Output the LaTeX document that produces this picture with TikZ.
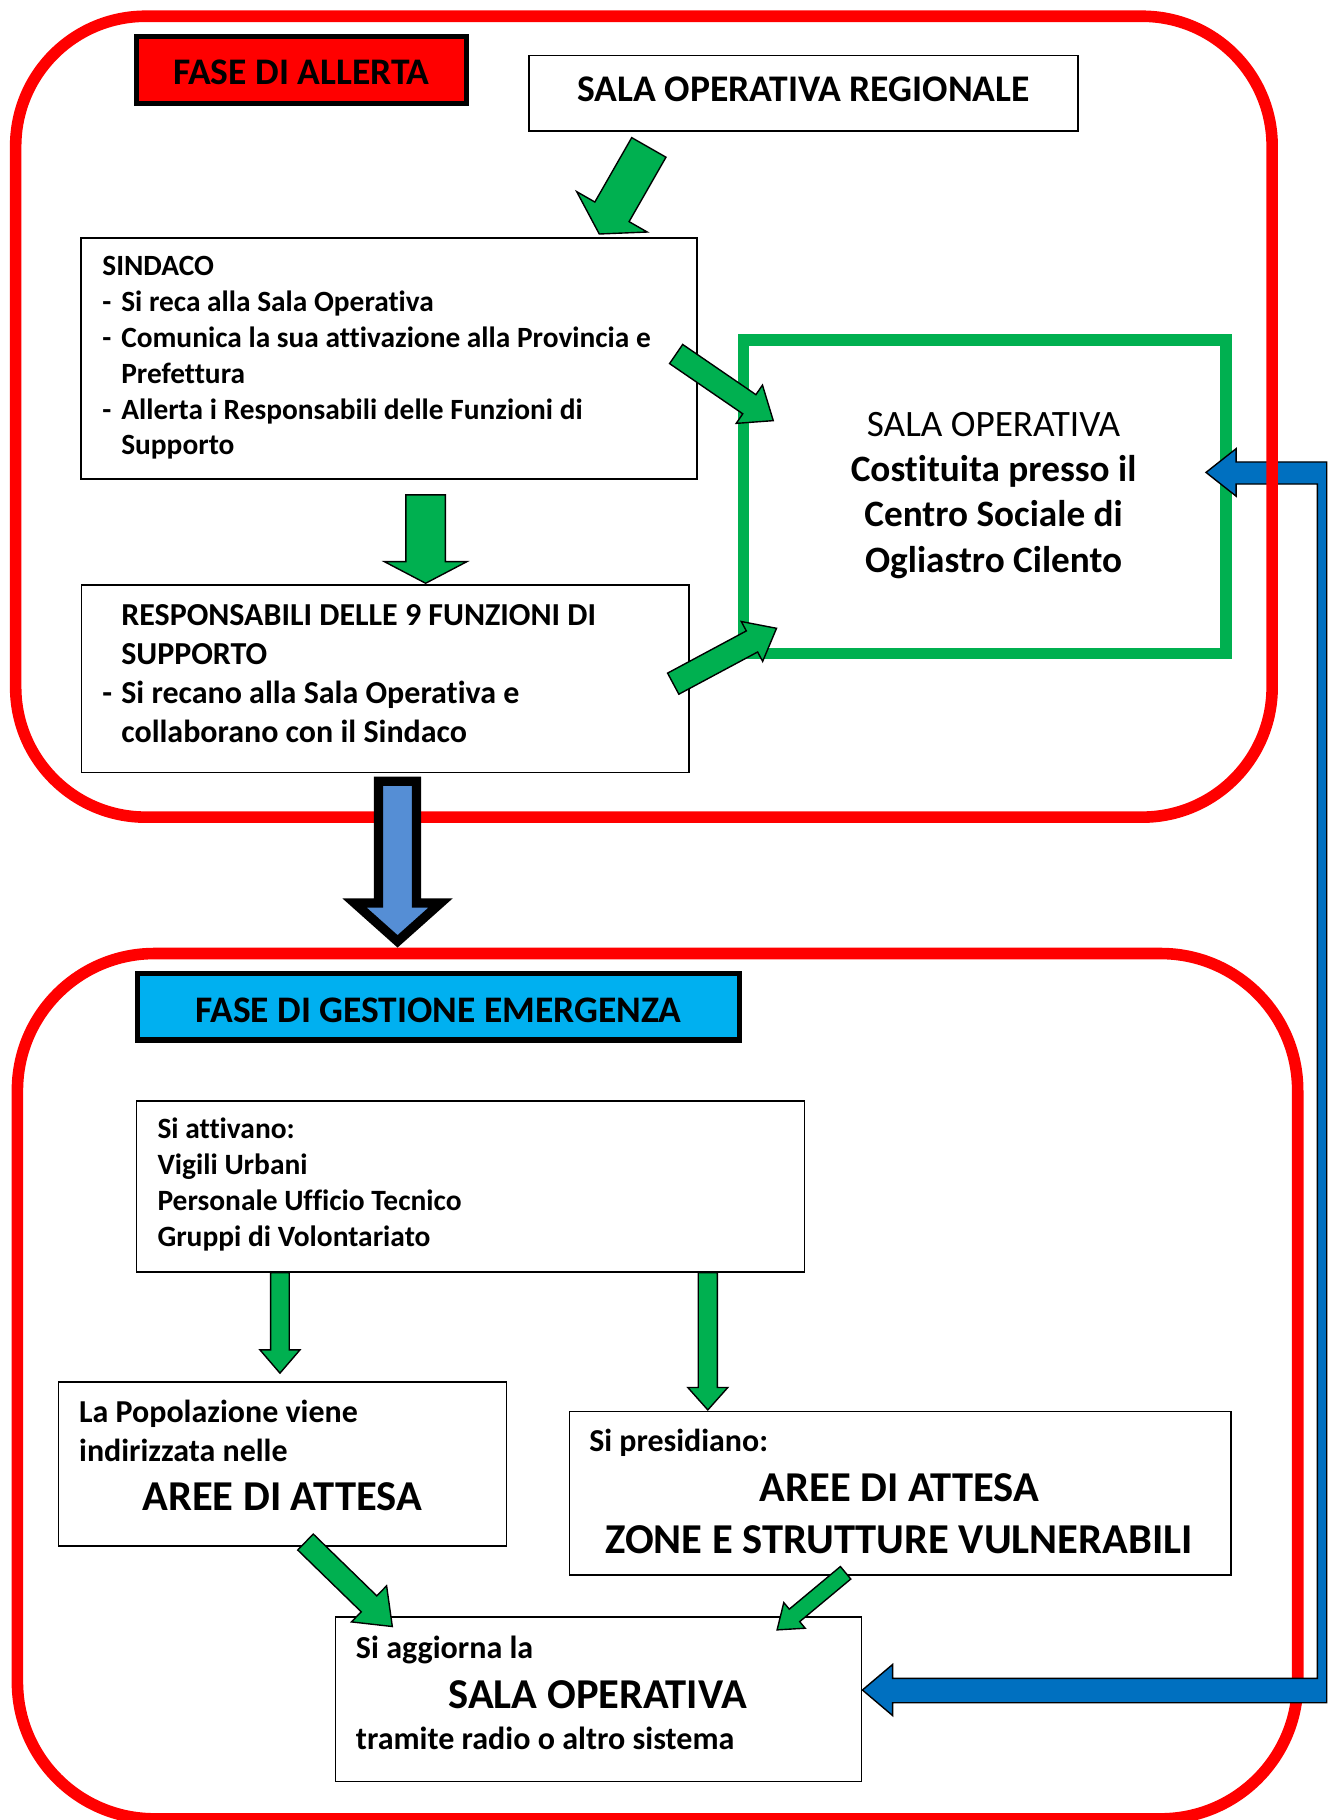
\documentclass[tikz,border=0pt]{standalone}
\usepackage{fontspec}
\setmainfont{Carlito}[Ligatures=NoCommon]
\usetikzlibrary{calc}
\definecolor{redline}{HTML}{FF0000}
\definecolor{garrow}{HTML}{00B050}
\definecolor{cyanfill}{HTML}{00B0F0}
\definecolor{bluedown}{HTML}{558ED5}
\definecolor{bluebr}{HTML}{0070C0}
\makeatletter
\newlength\fitlen
\newcommand\setfit[4]{\begingroup\fontsize{10}{12}\selectfont#2\settowidth{\fitlen}{#4}\xdef#1{\fpeval{round(10*#3/\strip@pt\fitlen,2)}}\endgroup}
\makeatother
\newcommand\blockarrow[6][]{%
  \coordinate (bah) at ($(#3)!#6!(#2)$);
  \draw[garrowst,#1] ($(#2)!#4!90:(#3)$) -- ($(bah)!#4!-90:(#2)$) -- ($(bah)!#5!-90:(#2)$) -- (#3) -- ($(bah)!#5!90:(#2)$) -- ($(bah)!#4!90:(#2)$) -- ($(#2)!#4!-90:(#3)$) -- cycle;}
\newcommand\boxnode[6]{\node[#6,minimum width={#4-#2},minimum height={#5-#3}] (#1) at ({(#2+#4)/2},{(#3+#5)/2}) {};}
\AtBeginDocument{%
\setfit\szFA{\bfseries}{221}{FASE DI ALLERTA}%
\setfit\szSR{\bfseries}{390}{SALA OPERATIVA REGIONALE}%
\setfit\szSI{\bfseries}{456}{Comunica la sua attivazione alla Provincia e}%
\setfit\szRE{\bfseries}{409}{RESPONSABILI DELLE 9 FUNZIONI DI}%
\setfit\szGB{\bfseries}{246}{Costituita presso il}%
\setfit\szFG{\bfseries}{419}{FASE DI GESTIONE EMERGENZA}%
\setfit\szAT{\bfseries}{262}{Personale Ufficio Tecnico}%
\setfit\szPO{\bfseries}{240}{La Popolazione viene}%
\setfit\szPR{\bfseries}{154}{Si presidiano:}%
\setfit\szAG{\bfseries}{326}{tramite radio o altro sistema}%
\setfit\szBIG{\bfseries}{506}{ZONE E STRUTTURE VULNERABILI}%
}
\begin{document}
\begin{tikzpicture}[x=1pt,y=-1pt,
  redbox/.style={draw=redline,line width=10pt},
  plainbox/.style={draw=black,line width=1.3pt,fill=white,inner sep=0pt},
  greenbox/.style={draw=garrow,line width=10pt,fill=white,inner sep=0pt},
  titlebox/.style={draw=black,line width=4.4pt,inner sep=0pt},
  garrowst/.style={draw=black,line width=1.2pt,fill=garrow,line join=miter},
  txt/.style={inner sep=0pt,anchor=base west},
  ctxt/.style={inner sep=0pt,anchor=base},
  fFA/.style={font=\fontsize{\szFA}{\szFA}\selectfont\bfseries},
  fSR/.style={font=\fontsize{\szSR}{\szSR}\selectfont\bfseries},
  fSI/.style={font=\fontsize{\szSI}{\szSI}\selectfont\bfseries},
  fRE/.style={font=\fontsize{\szRE}{\szRE}\selectfont\bfseries},
  fGB/.style={font=\fontsize{\szGB}{\szGB}\selectfont\bfseries},
  fGR/.style={font=\fontsize{\szGB}{\szGB}\selectfont},
  fFG/.style={font=\fontsize{\szFG}{\szFG}\selectfont\bfseries},
  fAT/.style={font=\fontsize{\szAT}{\szAT}\selectfont\bfseries},
  fPO/.style={font=\fontsize{\szPO}{\szPO}\selectfont\bfseries},
  fPR/.style={font=\fontsize{\szPR}{\szPR}\selectfont\bfseries},
  fAG/.style={font=\fontsize{\szAG}{\szAG}\selectfont\bfseries},
  fBIG/.style={font=\fontsize{\szBIG}{\szBIG}\selectfont\bfseries},
  ]
\useasboundingbox (0,0) rectangle (1144,1568);
\fill[white] (0,0) rectangle (1144,1568);
% lower frame
\draw[redbox,rounded corners=118pt] (15,821.5) rectangle (1118,1567);
% boxes
\boxnode{fa}{117.4}{31.8}{401.8}{89.1}{titlebox,fill=redline}
\boxnode{sr}{455.7}{48}{928.8}{112.9}{plainbox}
\boxnode{si}{70}{205}{600.7}{412.6}{plainbox}
\boxnode{re}{70.3}{504}{593.4}{665.6}{plainbox}
\boxnode{so}{640.5}{293}{1056}{563}{greenbox}
\boxnode{fg}{118.5}{839}{637}{896}{titlebox,fill=cyanfill}
\boxnode{at}{117.7}{948.4}{693.3}{1095.7}{plainbox}
\boxnode{po}{50.5}{1190.8}{436.5}{1332}{plainbox}
\boxnode{pr}{490.5}{1216}{1060.6}{1357}{plainbox}
\boxnode{ag}{289}{1393}{742}{1535}{plainbox}
% blue feedback connector
\coordinate (brT) at (1039,407);
\coordinate (brB) at (743,1456);
\draw[draw=black,line width=1.2pt,fill=bluebr,line join=miter] (brT) -- (1065,386.5) -- (1065,398) -- (1143,398) -- (1143,1467) -- (769,1467) -- (769,1478) -- (brB) -- (769,1434) -- (769,1446) -- (1135,1446) -- (1135,417) -- (1065,417) -- (1065,427.5) -- cycle;
% upper frame
\draw[redbox,rounded corners=112pt] (13.5,14) rectangle (1096,704);
% texts
\node[ctxt,fFA] (tfa) at (259.6,73.2) {FASE DI ALLERTA};
\node[ctxt,fSR] (tsr) at (692.3,87.7) {SALA OPERATIVA REGIONALE};
\node[txt,fSI] (ts1) at (88,237.7) {SINDACO};
\node[txt,fSI] (ts2) at (88,268.5) {\makebox[16.3pt][l]{-}Si reca alla Sala Operativa};
\node[txt,fSI] (ts3) at (88,299.4) {\makebox[16.3pt][l]{-}Comunica la sua attivazione alla Provincia e};
\node[txt,fSI] (ts4) at (104.3,330.2) {Prefettura};
\node[txt,fSI] (ts5) at (88,361) {\makebox[16.3pt][l]{-}Allerta i Responsabili delle Funzioni di};
\node[txt,fSI] (ts6) at (104.3,391.9) {Supporto};
\node[txt,fRE] (tr1) at (104.3,539) {RESPONSABILI DELLE 9 FUNZIONI DI};
\node[txt,fRE] (tr2) at (104.3,572.7) {SUPPORTO};
\node[txt,fRE] (tr3) at (88,606.4) {\makebox[16.3pt][l]{-}Si recano alla Sala Operativa e};
\node[txt,fRE] (tr4) at (104.3,640.1) {collaborano con il Sindaco};
\node[ctxt,fGR] (tg1) at (856,376) {SALA OPERATIVA};
\node[ctxt,fGB] (tg2) at (856,415) {Costituita presso il};
\node[ctxt,fGB] (tg3) at (856,454) {Centro Sociale di};
\node[ctxt,fGB] (tg4) at (856,493) {Ogliastro Cilento};
\node[ctxt,fFG] (tfg) at (377.7,881) {FASE DI GESTIONE EMERGENZA};
\node[txt,fAT] (ta1) at (135.5,981) {Si attivano:};
\node[txt,fAT] (ta2) at (135.5,1012) {Vigili Urbani};
\node[txt,fAT] (ta3) at (135.5,1043) {Personale Ufficio Tecnico};
\node[txt,fAT] (ta4) at (135.5,1074) {Gruppi di Volontariato};
\node[txt,fPO] (tp1) at (68,1225.6) {La Popolazione viene};
\node[txt,fPO] (tp2) at (68,1259) {indirizzata nelle};
\node[ctxt,fBIG] (tp3) at (243,1301.4) {AREE DI ATTESA};
\node[txt,fPR] (tq1) at (507.5,1250.5) {Si presidiano:};
\node[ctxt,fBIG] (tq2) at (775,1293.6) {AREE DI ATTESA};
\node[ctxt,fBIG] (tq3) at (774.6,1338) {ZONE E STRUTTURE VULNERABILI};
\node[txt,fAG] (tu1) at (306.5,1429) {Si aggiorna la};
\node[ctxt,fBIG] (tu2) at (515,1471.6) {SALA OPERATIVA};
\node[txt,fAG] (tu3) at (306.5,1507) {tramite radio o altro sistema};
% green block arrows
\coordinate (a1t) at (559,127);     \coordinate (a1h) at (516.3,201.6);
\coordinate (a2t) at (582.5,305);   \coordinate (a2h) at (666.2,362.4);
\coordinate (a3t) at (580,589);     \coordinate (a3h) at (669,541.3);
\coordinate (a4t) at (366.7,426.4); \coordinate (a4h) at (366.7,502.5);
\coordinate (a6t) at (241.2,1096.4);\coordinate (a6h) at (241.2,1183);
\coordinate (a7t) at (609.8,1096.4);\coordinate (a7h) at (609.8,1214.7);
\coordinate (a8t) at (263.2,1328.5);\coordinate (a8h) at (338,1401.3);
\coordinate (a9t) at (728.5,1355);  \coordinate (a9h) at (669.5,1404.2);
\blockarrow{a1t}{a1h}{17pt}{35pt}{22pt}
\blockarrow{a2t}{a2h}{10pt}{20pt}{25pt}
\blockarrow{a3t}{a3h}{10.3pt}{19.5pt}{24pt}
\blockarrow{a4t}{a4h}{17pt}{35.5pt}{18.6pt}
\blockarrow{a6t}{a6h}{8pt}{17.2pt}{20pt}
\blockarrow{a7t}{a7h}{8.2pt}{17.2pt}{19.3pt}
\blockarrow{a8t}{a8h}{9.6pt}{21.7pt}{28pt}
\blockarrow{a9t}{a9h}{7pt}{14.4pt}{19.5pt}
% blue down arrow
\coordinate (bdt) at (342.5,673);
\coordinate (bdh) at (342.5,811);
\blockarrow[draw=black,line width=8pt,fill=bluedown]{bdt}{bdh}{16.4pt}{37pt}{33pt}
\end{tikzpicture}
\end{document}
